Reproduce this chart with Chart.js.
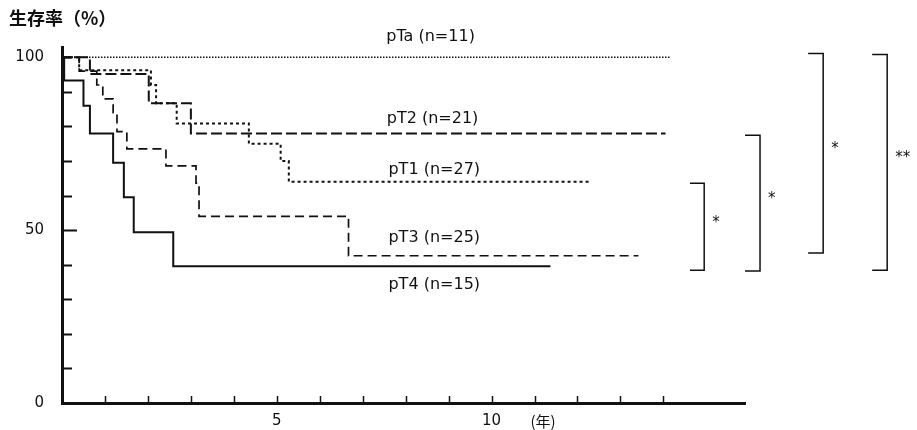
<!DOCTYPE html>
<html>
<head>
<meta charset="utf-8">
<script src="https://cdn.jsdelivr.net/npm/chart.js@4.4.1/dist/chart.umd.min.js"></script>
<style>
  html, body { margin: 0; padding: 0; background: #fff; }
  #wrap { width: 917px; height: 430px; }
</style>
</head>
<body>
<div id="wrap"><canvas id="survChart"></canvas></div>
<script>
// Kaplan-Meier curves (years, survival %)
var pTaTime = [0, 14.15];
var pTaSurv = [100, 100];
var pT2Time = [0, 0.65, 2.02, 3.0, 14.05];
var pT2Surv = [100, 95.2, 86.7, 78, 78];
var pT1Time = [0, 0.4, 2.07, 2.19, 2.67, 4.35, 5.09, 5.28, 12.3];
var pT1Surv = [100, 96.3, 92, 86.7, 80.9, 75, 70, 64, 64];
var pT3Time = [0, 0.4, 0.81, 0.95, 1.19, 1.28, 1.51, 2.42, 3.12, 3.19, 6.67, 13.42];
var pT3Surv = [100, 96, 92, 88, 84, 78.5, 73.5, 68.6, 63.6, 54, 42.6, 42.6];
var pT4Time = [0, 0.05, 0.5, 0.65, 1.19, 1.44, 1.67, 2.59, 11.37];
var pT4Surv = [100, 93.3, 86, 78, 69.5, 59.5, 49.4, 39.6, 39.6];

var groupLabels = ["pTa (n=11)", "pT2 (n=21)", "pT1 (n=27)", "pT3 (n=25)", "pT4 (n=15)"];
var labelYears = [7.55, 7.56, 7.6, 7.6, 7.6];
var labelSurv = [105.8, 82.1, 67.4, 47.8, 34.3];

var yLabelValues = [0, 50, 100];
var xLabelValues = [5, 10];
var xMarkYears = [1, 2, 3, 4, 5, 6, 7, 8, 9, 10, 11, 12, 13, 14];

// significance brackets: left/right in years, top/bottom in %
var bracketLeft = [14.62, 15.9, 17.37, 18.86];
var bracketRight = [14.95, 16.25, 17.72, 19.21];
var bracketTop = [63.6, 77.5, 101.1, 100.8];
var bracketBottom = [38.4, 38.2, 43.4, 38.4];
var bracketMarks = ["*", "*", "*", "**"];

var ink = "#111";

function toPoints(t, s) {
    return t.map(function (v, i) { return { x: v, y: s[i] }; });
}

var overlay = {
    id: 'overlay',
    afterDraw: function (chart) {
        var ctx = chart.ctx;
        var xs = chart.scales.x, ys = chart.scales.y;
        var left = chart.chartArea.left, bottom = chart.chartArea.bottom;
        ctx.save();
        ctx.strokeStyle = ink;
        ctx.fillStyle = ink;

        // inward tick marks on y axis
        ctx.lineWidth = 2;
        ys.ticks.forEach(function (t) {
            if (t.value <= 0 || t.value % 10 !== 0) return;
            var py = Math.round(ys.getPixelForValue(t.value)) + 0.5;
            var len = t.value === 50 ? 15 : 10;
            ctx.beginPath();
            ctx.moveTo(left, py);
            ctx.lineTo(left + len, py);
            ctx.stroke();
        });
        // inward tick marks on x axis
        ctx.lineWidth = 1.5;
        xMarkYears.forEach(function (v) {
            var px = Math.round(xs.getPixelForValue(v)) + 0.5;
            ctx.beginPath();
            ctx.moveTo(px, bottom);
            ctx.lineTo(px, bottom - 7);
            ctx.stroke();
        });

        // curve labels
        ctx.font = "16px 'DejaVu Sans'";
        ctx.textAlign = "left";
        ctx.textBaseline = "middle";
        groupLabels.forEach(function (txt, i) {
            ctx.fillText(txt, xs.getPixelForValue(labelYears[i]), ys.getPixelForValue(labelSurv[i]));
        });

        // year unit
        ctx.font = "15px 'Noto Sans CJK JP'";
        ctx.textAlign = "center";
        ctx.fillText("(年)", xs.getPixelForValue(11.2), bottom + 18);

        // axis title
        ctx.font = "bold 18px 'Noto Sans CJK JP'";
        ctx.textAlign = "left";
        ctx.fillText("生存率（%）", 9, 18);

        // brackets
        ctx.lineWidth = 1.5;
        ctx.font = "15px 'DejaVu Sans'";
        bracketLeft.forEach(function (bl, i) {
            var x1 = xs.getPixelForValue(bl), x2 = xs.getPixelForValue(bracketRight[i]);
            var y1 = ys.getPixelForValue(bracketTop[i]), y2 = ys.getPixelForValue(bracketBottom[i]);
            ctx.beginPath();
            ctx.moveTo(x1, y1);
            ctx.lineTo(x2, y1);
            ctx.lineTo(x2, y2);
            ctx.lineTo(x1, y2);
            ctx.stroke();
            ctx.textAlign = "left";
            ctx.fillText(bracketMarks[i], x2 + 8, (y1 + y2) / 2 - 4);
        });
        ctx.restore();
    }
};

var ctc = document.getElementById("survChart");
var survChart = new Chart(ctc, {
    type: 'line',
    data: {
        datasets: [
            { label: 'pTa', data: toPoints(pTaTime, pTaSurv), borderColor: ink, borderDash: [1.5, 1.5], borderWidth: 1.5 },
            { label: 'pT2', data: toPoints(pT2Time, pT2Surv), borderColor: ink, borderDash: [11, 4], borderWidth: 2 },
            { label: 'pT1', data: toPoints(pT1Time, pT1Surv), borderColor: ink, borderDash: [3, 3], borderWidth: 2 },
            { label: 'pT3', data: toPoints(pT3Time, pT3Surv), borderColor: ink, borderDash: [9, 5], borderWidth: 1.7 },
            { label: 'pT4', data: toPoints(pT4Time, pT4Surv), borderColor: ink, borderWidth: 2 }
        ]
    },
    options: {
        responsive: true,
        maintainAspectRatio: false,
        animation: false,
        datasets: {
            line: {
                stepped: true,
                pointRadius: 0,
                fill: false
            }
        },
        plugins: {
            legend: { display: false },
            tooltip: { enabled: false }
        },
        layout: {
            padding: { top: 47, right: 172, left: 0, bottom: 0 }
        },
        scales: {
            x: {
                type: 'linear',
                min: 0,
                max: 15.9,
                grid: { display: false, drawTicks: false },
                border: { display: true, color: ink, width: 3 },
                ticks: {
                    stepSize: 1,
                    includeBounds: false,
                    autoSkip: false,
                    maxRotation: 0,
                    padding: 9,
                    color: ink,
                    font: { family: "'DejaVu Sans'", size: 15 },
                    callback: function (v) { return xLabelValues.indexOf(v) >= 0 ? v : ''; }
                },
                afterFit: function (s) { s.height = 26; }
            },
            y: {
                min: 0,
                max: 103,
                grid: { display: false, drawTicks: false },
                border: { display: true, color: ink, width: 3 },
                ticks: {
                    stepSize: 10,
                    includeBounds: false,
                    autoSkip: false,
                    padding: 18,
                    color: ink,
                    font: { family: "'DejaVu Sans'", size: 15 },
                    callback: function (v) { return yLabelValues.indexOf(v) >= 0 ? v : ''; }
                },
                afterFit: function (s) { s.width = 62; }
            }
        }
    },
    plugins: [overlay]
});
</script>
</body>
</html>
